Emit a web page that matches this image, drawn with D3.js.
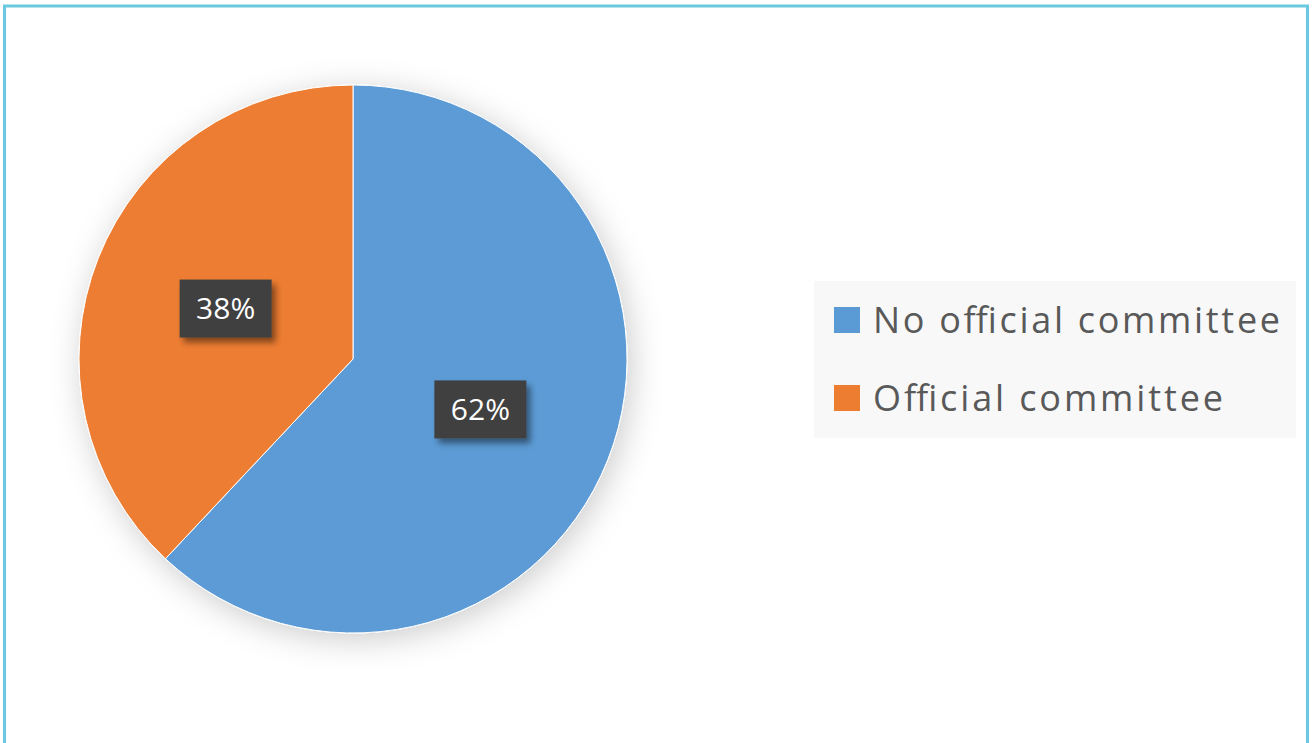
<!DOCTYPE html>
<html>
<head>
<meta charset="utf-8">
<script src="https://cdn.jsdelivr.net/npm/d3@7"></script>
<style>
  body { margin: 0; background: #fff; }
  svg { display: block; }
</style>
</head>
<body>
<div id="chart"></div>
<script>
// Chart data
const categories = ["No official committee", "Official committee"];
const shares = [62, 38];
const labels = ["62%", "38%"];
const colors = ["#5b9bd5", "#ed7d31"];

const W = 1314, H = 743;

const svg = d3.select("#chart")
    .append("svg")
    .attr("width", W)
    .attr("height", H);

// Soft shadows like the original spreadsheet chart
const defs = svg.append("defs");
defs.append("filter")
    .attr("id", "pieShadow")
    .attr("x", "-25%").attr("y", "-25%")
    .attr("width", "150%").attr("height", "150%")
    .append("feDropShadow")
    .attr("dx", 4).attr("dy", 6)
    .attr("stdDeviation", 16)
    .attr("flood-color", "#000")
    .attr("flood-opacity", 0.2);

defs.append("filter")
    .attr("id", "labelShadow")
    .attr("x", "-30%").attr("y", "-30%")
    .attr("width", "160%").attr("height", "160%")
    .append("feDropShadow")
    .attr("dx", 4).attr("dy", 5)
    .attr("stdDeviation", 3)
    .attr("flood-color", "#000")
    .attr("flood-opacity", 0.45);

// Frame border
svg.append("rect")
    .attr("x", 4.5).attr("y", 6)
    .attr("width", 1303).attr("height", H + 10)
    .attr("fill", "none")
    .attr("stroke", "#6ac9de")
    .attr("stroke-width", 3);

// Pie
const cx = 353, cy = 359, radius = 274;

const pie = d3.pie().sort(null).value(d => d);
const arcs = pie(shares);

const arc = d3.arc().innerRadius(0).outerRadius(radius);
const labelArc = d3.arc().innerRadius(radius * 0.5).outerRadius(radius * 0.5);

const g = svg.append("g")
    .attr("transform", `translate(${cx},${cy})`);

g.append("g")
    .attr("filter", "url(#pieShadow)")
    .selectAll("path")
    .data(arcs)
    .enter()
    .append("path")
    .attr("d", arc)
    .attr("fill", (d, i) => colors[i])
    .attr("stroke", "#fff")
    .attr("stroke-width", 1);

// Data labels in dark boxes
const lab = g.selectAll(".lab")
    .data(arcs)
    .enter()
    .append("g")
    .attr("class", "lab")
    .attr("transform", d => `translate(${labelArc.centroid(d)})`);

lab.append("rect")
    .attr("x", -46).attr("y", -29)
    .attr("width", 92).attr("height", 58)
    .attr("fill", "#404040")
    .attr("filter", "url(#labelShadow)");

lab.append("text")
    .attr("text-anchor", "middle")
    .attr("dy", "0.36em")
    .attr("fill", "#fff")
    .style("font-family", "'Open Sans', 'DejaVu Sans', sans-serif")
    .style("font-size", "30px")
    .text((d, i) => labels[i]);

// Legend
const legend = svg.append("g");

legend.append("rect")
    .attr("x", 814).attr("y", 281)
    .attr("width", 482).attr("height", 157)
    .attr("fill", "#f8f8f8");

const legendY = d3.scalePoint()
    .domain(categories)
    .range([320, 398]);

const item = legend.selectAll(".item")
    .data(categories)
    .enter()
    .append("g")
    .attr("class", "item")
    .attr("transform", d => `translate(0,${legendY(d)})`);

item.append("rect")
    .attr("x", 834).attr("y", -13)
    .attr("width", 26).attr("height", 26)
    .attr("fill", (d, i) => colors[i]);

item.append("text")
    .attr("x", 873)
    .attr("dy", "0.36em")
    .attr("fill", "#595959")
    .style("font-family", "'Open Sans', 'DejaVu Sans', sans-serif")
    .style("font-size", "36px")
    .attr("textLength", (d, i) => i === 0 ? 407 : 350)
    .attr("lengthAdjust", "spacing")
    .text(d => d);
</script>
</body>
</html>
